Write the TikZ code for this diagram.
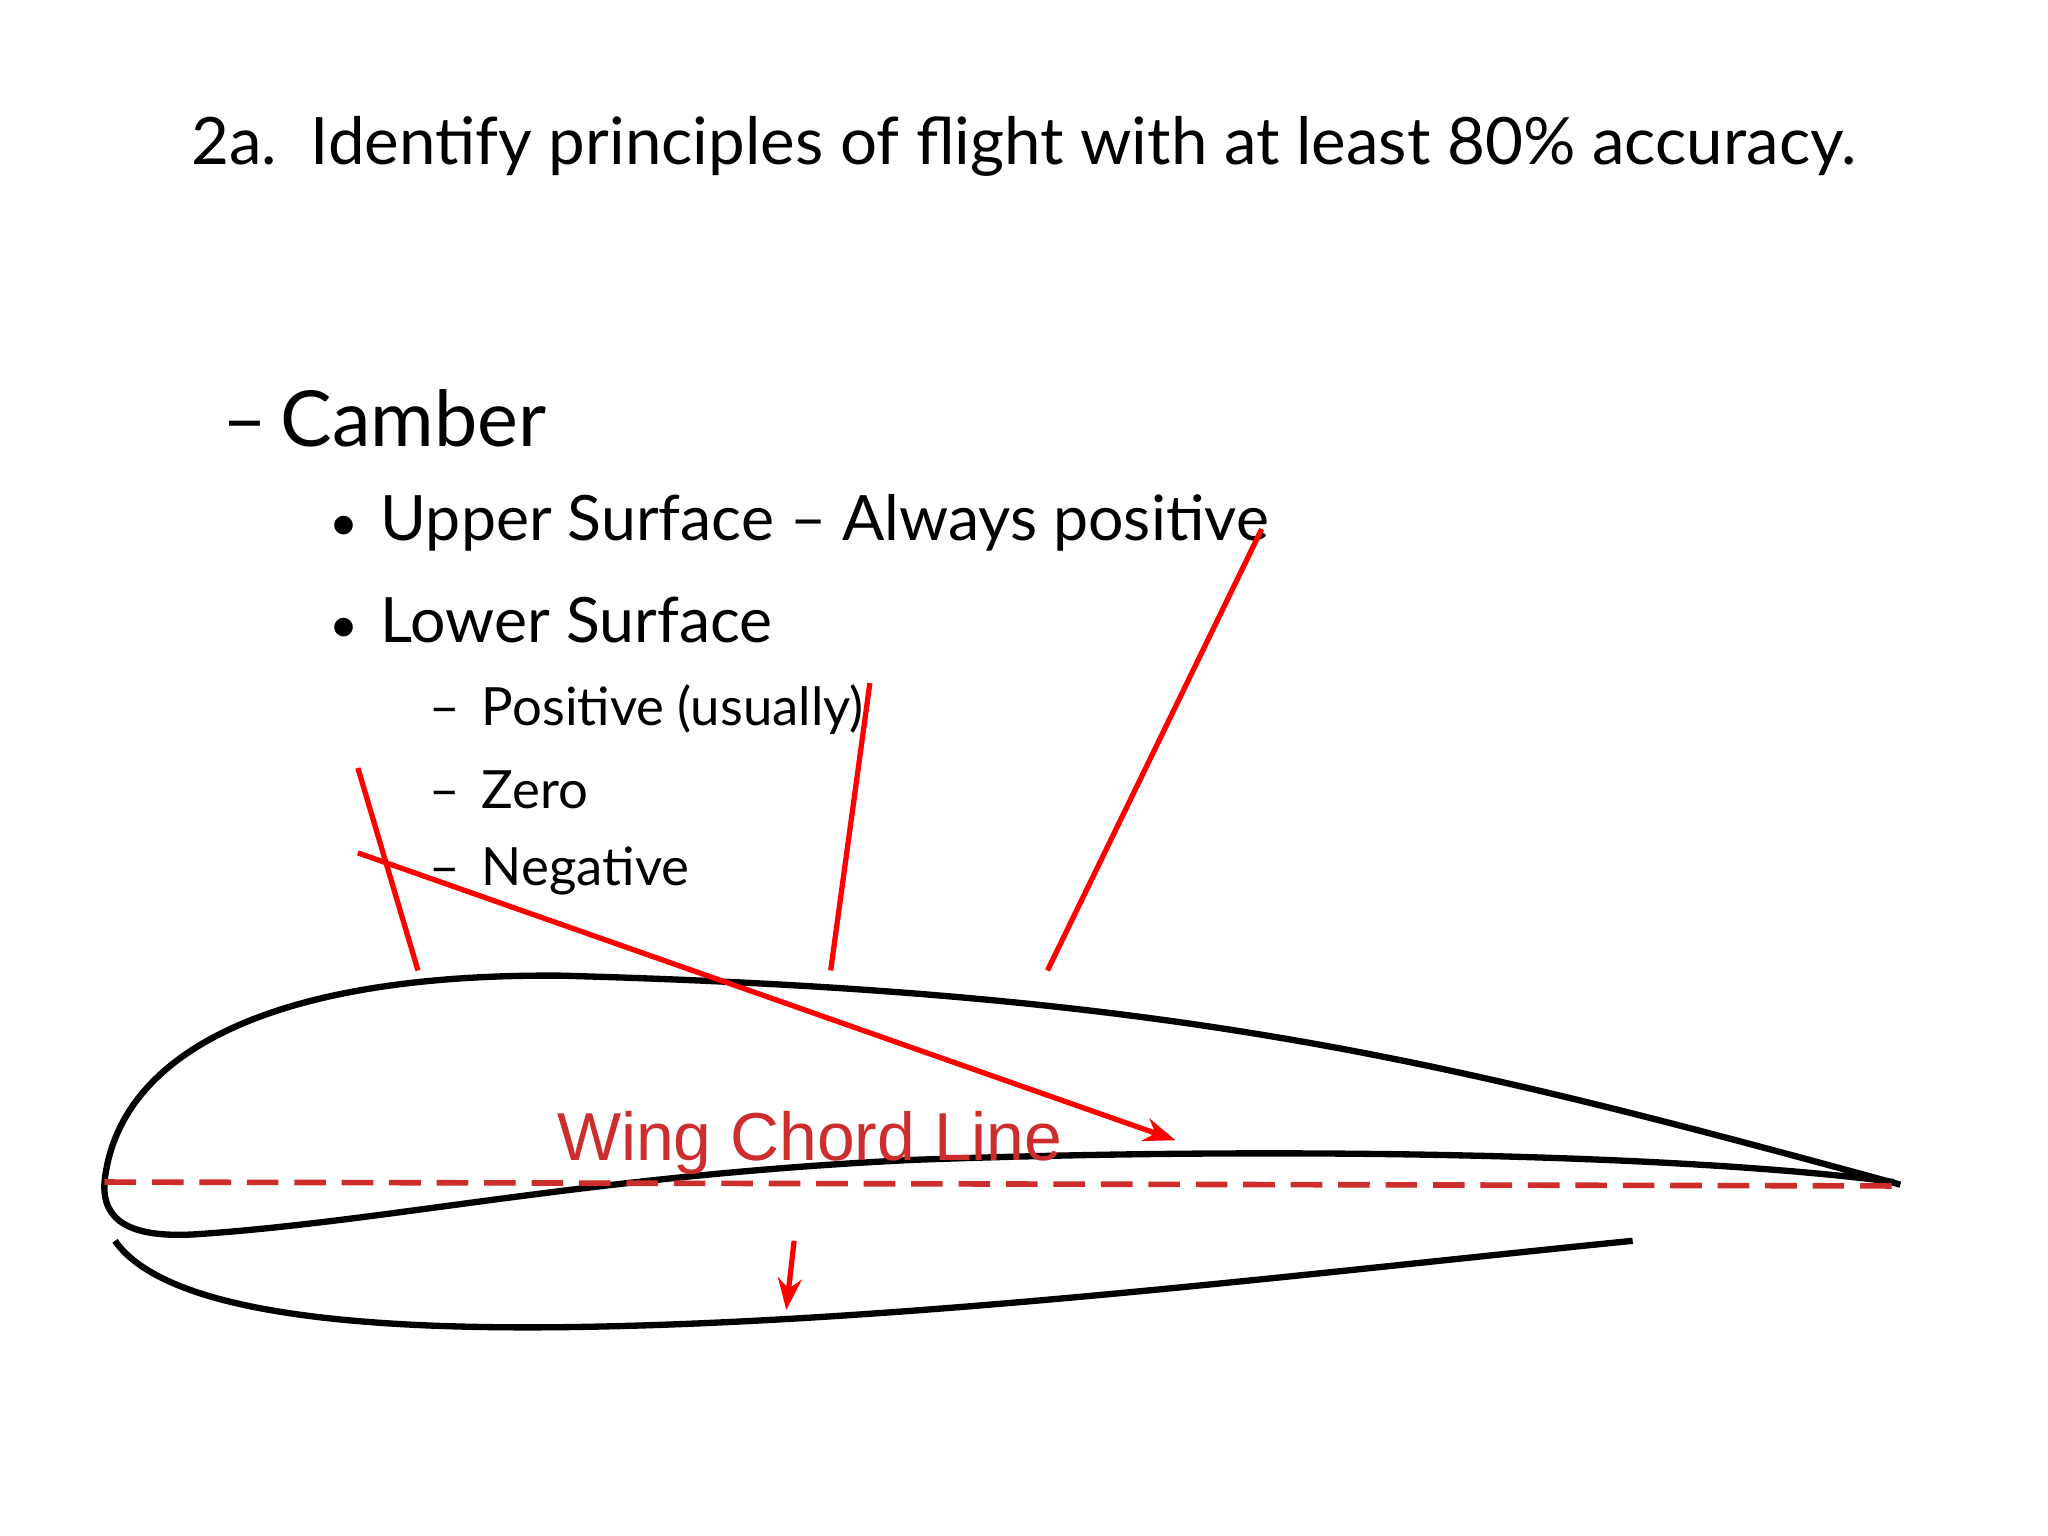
\documentclass[tikz,border=0pt]{standalone}
\usepackage{fontspec}
\setmainfont{Lato}
\newfontfamily\arialf{Liberation Sans}
\usetikzlibrary{arrows.meta}
\definecolor{chordred}{RGB}{205,45,45}
\begin{document}
\begin{tikzpicture}[x=0.013061cm,y=-0.013061cm,
  foil/.style={line width=1.8pt,black},
  redl/.style={line width=1.5pt,red},
  txt/.style={anchor=west,inner sep=0pt}]
\useasboundingbox (0,0) rectangle (1568,1176);
\node[txt,font=\fontsize{18.6}{22}\selectfont] (title) at (146,112) {2a.\ \ Identify principles of flight with at least 80\% accuracy.};
\node[txt,font=\fontsize{22}{26}\selectfont] (camber) at (170,320) {--\,Camber};
\node[txt,font=\fontsize{17.8}{20}\selectfont] (b1) at (252,400) {\scalebox{0.8}{\textbullet}\hspace{0.35em}Upper Surface -- Always positive};
\node[txt,font=\fontsize{17.8}{20}\selectfont] (b2) at (252,475) {\scalebox{0.8}{\textbullet}\hspace{0.35em}Lower Surface};
\node[txt,font=\fontsize{15}{18}\selectfont] (s1) at (328,543) {-- \,Positive (usually)};
\node[txt,font=\fontsize{15}{18}\selectfont] (s2) at (328,605) {-- \,Zero};
\node[txt,font=\fontsize{15}{18}\selectfont] (s3) at (328,667) {-- \,Negative};
% airfoil
\draw[foil] (1455,907) .. controls (1100,810) and (900,760) .. (430,747)
  .. controls (200,745) and (90,810) .. (80,905)
  .. controls (78,935) and (100,948) .. (150,945)
  .. controls (300,935) and (450,900) .. (700,888)
  .. controls (1000,877) and (1300,885) .. (1450,905);
\draw[foil] (88,950) .. controls (130,1010) and (300,1018) .. (440,1016)
  .. controls (700,1012) and (1000,975) .. (1250,950);
\draw[chordred,line width=1.6pt,dash pattern=on 9pt off 4.5pt] (80,905) -- (1450,908);
\node[font=\arialf\fontsize{19.3}{22}\selectfont,text=chordred,inner sep=0pt] (wcl) at (620,875) {Wing Chord Line};
\coordinate (a1) at (274,588); \coordinate (a2) at (320,743);
\coordinate (c1) at (666,523); \coordinate (c2) at (636,743);
\coordinate (d1) at (966,405); \coordinate (d2) at (802,743);
\coordinate (e1) at (274,653); \coordinate (e2) at (900,873);
\coordinate (f1) at (608,950); \coordinate (f2) at (602,1003);
\draw[redl] (a1) -- (a2);
\draw[redl] (c1) -- (c2);
\draw[redl] (d1) -- (d2);
\draw[redl,-{Stealth[length=9pt]}] (e1) -- (e2);
\draw[redl,-{Stealth[length=9pt]}] (f1) -- (f2);
\end{tikzpicture}
\end{document}
